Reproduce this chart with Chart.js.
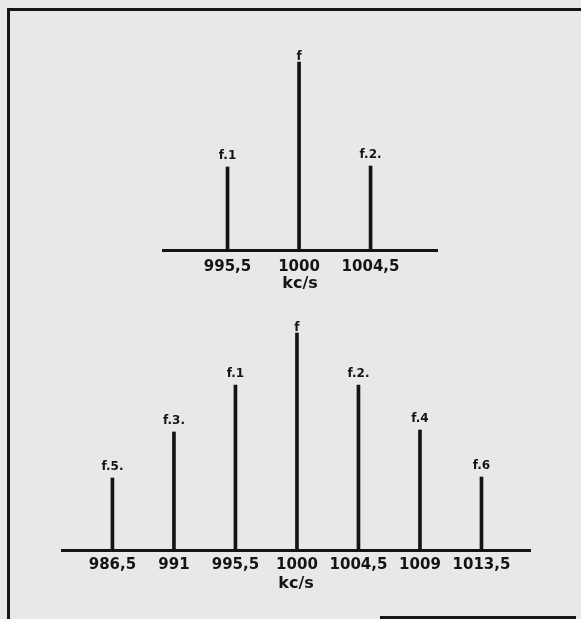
<!DOCTYPE html>
<html><head><meta charset="utf-8">
<script src="https://cdn.jsdelivr.net/npm/chart.js@4.4.1/dist/chart.umd.min.js"></script>
<style>
html,body{margin:0;padding:0;background:#e8e8e6;width:581px;height:619px;overflow:hidden;position:relative}
#frame{position:absolute;left:7px;top:8px;width:600px;height:700px;border-left:3px solid #161616;border-top:3px solid #161616;}
#bline{position:absolute;left:380px;top:616px;width:196px;height:3px;background:#161616}
canvas{position:absolute;left:0;top:0}
</style></head><body>
<div id="frame"></div>
<div id="bline"></div>
<canvas id="topChart" width="581" height="619"></canvas>
<canvas id="bottomChart" width="581" height="619"></canvas>
<script>
// ---- data ----
const topFreqs = [995.5, 1000, 1004.5];
const topAmps = [83, 188, 84];
const topNames = ['f.1', 'f', 'f.2.'];

const bottomFreqs = [986.5, 991, 995.5, 1000, 1004.5, 1009, 1013.5];
const bottomAmps = [72, 118, 165, 217, 165, 120, 73];
const bottomNames = ['f.5.', 'f.3.', 'f.1', 'f', 'f.2.', 'f.4', 'f.6'];

const axisUnit = 'kc/s';

// ---- drawing ----
const INK = '#141414';
const FONT = '"DejaVu Sans", sans-serif';

const stemLabels = {
  id: 'stemLabels',
  afterDatasetsDraw(chart, args, opts) {
    const ctx = chart.ctx;
    const meta = chart.getDatasetMeta(0);
    ctx.save();
    ctx.font = 'bold 12px ' + FONT;
    ctx.fillStyle = INK;
    ctx.textAlign = 'center';
    ctx.textBaseline = 'alphabetic';
    meta.data.forEach((el, i) => {
      const name = opts.names[i];
      const gap = name === 'f' ? 2 : 8;
      ctx.fillText(name, el.x, el.y - gap);
    });
    ctx.restore();
  }
};

function makeChart(id, freqs, amps, names, xmin, xmax, ymax, pad, tickPad) {
  return new Chart(document.getElementById(id), {
    type: 'bar',
    data: {
      datasets: [{
        data: freqs.map((f, i) => ({x: f, y: amps[i]})),
        backgroundColor: INK,
        borderWidth: 0,
        barThickness: 3
      }]
    },
    options: {
      responsive: false,
      animation: false,
      devicePixelRatio: 1,
      layout: {padding: pad},
      plugins: {
        legend: {display: false},
        tooltip: {enabled: false},
        stemLabels: {names: names}
      },
      scales: {
        x: {
          type: 'linear',
          min: xmin, max: xmax,
          offset: false,
          grid: {display: false, drawTicks: false},
          border: {display: true, color: INK, width: 3},
          afterBuildTicks: s => { s.ticks = freqs.map(v => ({value: v})); },
          afterFit: s => { s.height = 43; },
          ticks: {
            padding: tickPad,
            color: INK,
            autoSkip: false,
            maxRotation: 0,
            font: {family: FONT, size: 15, weight: 'bold'},
            callback: v => String(v).replace('.', ',')
          },
          title: {
            display: true,
            text: axisUnit,
            color: INK,
            font: {family: FONT, size: 16, weight: 'bold'},
            padding: {top: 0, bottom: 0}
          }
        },
        y: {display: false, min: 0, max: ymax}
      }
    },
    plugins: [stemLabels]
  });
}

makeChart('topChart', topFreqs, topAmps, topNames, 991.44, 1008.68, 200,
  {left: 163, right: 144, top: 50, bottom: 326}, 8);
makeChart('bottomChart', bottomFreqs, bottomAmps, bottomNames, 982.81, 1017.05, 230,
  {left: 62, right: 51, top: 320, bottom: 26}, 6);
</script>
</body></html>
